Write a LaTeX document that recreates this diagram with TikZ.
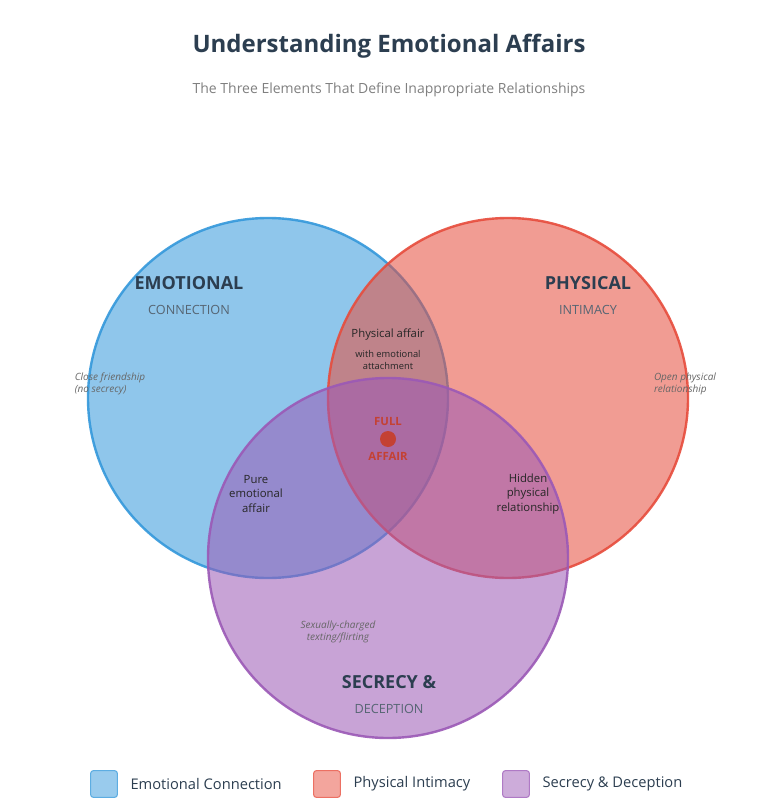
\documentclass[tikz,border=0pt]{standalone}
\usepackage{fontspec}
\setmainfont{Open Sans}
\usetikzlibrary{positioning}
\definecolor{emoblue}{HTML}{3498DB}
\definecolor{physred}{HTML}{E74C3C}
\definecolor{secpurple}{HTML}{9B59B6}
\definecolor{titlecol}{HTML}{2C3E50}
\tikzset{
	x=0.75pt, y=-0.75pt,
	venn/.style={circle, minimum size=270pt, line width=1.8pt, fill opacity=0.55, draw opacity=0.9},
	head/.style={font=\bfseries\fontsize{13.5}{15}\selectfont, text=titlecol},
	sub/.style={font=\fontsize{9.5}{11}\selectfont, text=titlecol!80},
	zone/.style={font=\fontsize{8.5}{11}\selectfont, align=center, text=black!85},
	note/.style={font=\itshape\fontsize{7.5}{9}\selectfont, align=left, text=black!60},
	legbox/.style={minimum size=20pt, rounded corners=2pt, line width=0.8pt},
	legtext/.style={font=\fontsize{11}{13}\selectfont, text=titlecol, anchor=west},
}
\begin{document}
\begin{tikzpicture}
	\useasboundingbox[fill=white] (0,0) rectangle (759,805);
	
	\node[font=\bfseries\fontsize{18}{21}\selectfont, text=titlecol] (TITLE) at (389,46) {Understanding Emotional Affairs};
	\node[font=\fontsize{10.5}{12}\selectfont, text=black!50] (SUBTITLE) at (389,90) {The Three Elements That Define Inappropriate Relationships};
	
	\node[venn, fill=emoblue, draw=emoblue] (EMO) at (268,398) {};
	\node[venn, fill=physred, draw=physred] (PHYS) at (508,398) {};
	\node[venn, fill=secpurple, draw=secpurple] (SEC) at (388,558) {};
	
	\node[head] (EMOhead) at (189,283) {EMOTIONAL};
	\node[sub] (EMOsub) at (189,310) {CONNECTION};
	\node[head] (PHYShead) at (588,283) {PHYSICAL};
	\node[sub] (PHYSsub) at (588,310) {INTIMACY};
	\node[head] (SEChead) at (389,682) {SECRECY \&};
	\node[sub] (SECsub) at (389,709) {DECEPTION};
	
	\node[note] (EMOnote) at (110,384) {Close friendship\\(no secrecy)};
	\node[note] (PHYSnote) at (685,384) {Open physical\\relationship};
	\node[note, align=center] (SECnote) at (338,632) {Sexually-charged\\texting/flirting};
	
	\node[zone] (EPzone) at (388,335) {Physical affair};
	\node[zone, font=\fontsize{7}{9}\selectfont, below=0pt of EPzone] (EPsub) {with emotional\\attachment};
	\node[zone] (ESzone) at (256,494) {Pure\\emotional\\affair};
	\node[zone] (PSzone) at (528,494) {Hidden\\physical\\relationship};
	
	\node[circle, fill=physred!85!black, minimum size=12pt, inner sep=0pt] (CORE) at (388,439) {};
	\node[font=\bfseries\fontsize{8.5}{10}\selectfont, text=physred!85!black, above=0pt of CORE] (FULL) {FULL};
	\node[font=\bfseries\fontsize{8.5}{10}\selectfont, text=physred!85!black, below=0pt of CORE] (AFFAIR) {AFFAIR};
	
	\node[legbox, fill=emoblue!50, draw=emoblue!80] (LEGemo) at (104,784) {};
	\node[legtext, right=6pt of LEGemo] (LEGemotext) {Emotional Connection};
	\node[legbox, fill=physred!50, draw=physred!80] (LEGphys) at (327,784) {};
	\node[legtext, right=6pt of LEGphys] (LEGphystext) {Physical Intimacy};
	\node[legbox, fill=secpurple!50, draw=secpurple!80] (LEGsec) at (516,784) {};
	\node[legtext, right=6pt of LEGsec] (LEGsectext) {Secrecy \& Deception};
	
\end{tikzpicture}
\end{document}
